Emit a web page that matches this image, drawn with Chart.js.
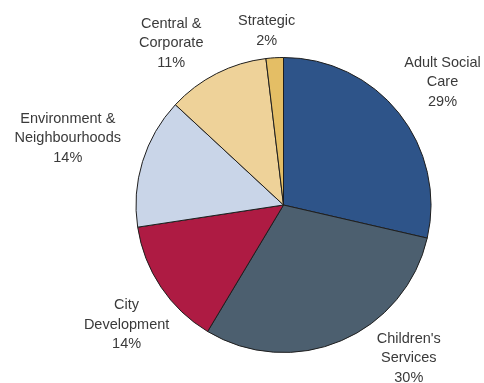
<!DOCTYPE html>
<html>
<head>
<meta charset="utf-8">
<script src="https://cdn.jsdelivr.net/npm/chart.js@4/dist/chart.umd.min.js"></script>
<style>
  html, body { margin: 0; padding: 0; background: #fff; }
  #wrap { width: 484px; height: 383px; }
</style>
</head>
<body>
<div id="wrap"><canvas id="grafica" width="484" height="383"></canvas></div>
<script>
// Budget split by directorate (share of total, %)
const categories = [
    'Adult Social\nCare',
    "Children's\nServices",
    'City\nDevelopment',
    'Environment &\nNeighbourhoods',
    'Central &\nCorporate',
    'Strategic'
];
const shares = [28.6, 30.0, 14.0, 14.3, 11.2, 1.9];
const sliceColors = ['#2E5489', '#4C5F6F', '#AE1B43', '#C9D5E8', '#EED299', '#E4BE65'];

// where each label sits: turn away from the slice middle (deg) and distance as a multiple of the radius
const labelTurn = [0.9, -16.2, -3.5, 0.1, -7.8, -2.1];
const labelReach = [1.361, 1.343, 1.338, 1.531, 1.334, 1.184];

const sliceLabels = {
    id: 'sliceLabels',
    afterDatasetsDraw(chart) {
        const ctx = chart.ctx;
        const meta = chart.getDatasetMeta(0);
        const values = chart.data.datasets[0].data;
        const total = values.reduce((a, b) => a + b, 0);
        ctx.save();
        ctx.font = '14.5px "Liberation Sans", Arial, sans-serif';
        ctx.fillStyle = '#3a3a3a';
        ctx.textAlign = 'center';
        ctx.textBaseline = 'middle';
        const lineH = 19.4;
        meta.data.forEach((arc, i) => {
            const mid = (arc.startAngle + arc.endAngle) / 2 + labelTurn[i] * Math.PI / 180;
            const r = arc.outerRadius * labelReach[i];
            const cx = arc.x + Math.cos(mid) * r;
            const cy = arc.y + Math.sin(mid) * r;
            const lines = chart.data.labels[i].split('\n');
            lines.push(Math.round(values[i] / total * 100) + '%');
            const top = cy - (lines.length - 1) * lineH / 2;
            lines.forEach((txt, k) => ctx.fillText(txt, cx, top + k * lineH));
        });
        ctx.restore();
    }
};

const graph = document.querySelector('#grafica');
const budgetChart = new Chart(graph, {
    type: 'pie',
    data: {
        labels: categories,
        datasets: [{
            data: shares,
            backgroundColor: sliceColors,
            borderColor: '#1e1e1e',
            borderWidth: 1
        }]
    },
    options: {
        responsive: false,
        animation: false,
        layout: { padding: { top: 57, bottom: 30, left: 135, right: 52 } },
        plugins: {
            legend: { display: false },
            tooltip: { enabled: false }
        }
    },
    plugins: [sliceLabels]
});
</script>
</body>
</html>
